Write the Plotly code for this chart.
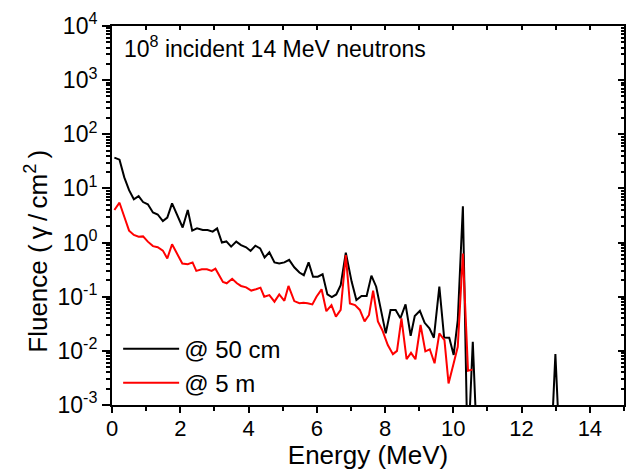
import plotly.graph_objects as go

# ---------------- data ----------------
energy_50cm = [0.07, 0.22, 0.36, 0.50, 0.64, 0.78, 0.91, 1.05, 1.20, 1.34,
               1.49, 1.62, 1.76, 1.91, 2.07, 2.22, 2.35, 2.49, 2.66, 2.80,
               2.95, 3.08, 3.22, 3.35, 3.49, 3.64, 3.78, 3.93, 4.06, 4.20,
               4.34, 4.47, 4.61, 4.76, 4.90, 5.05, 5.19, 5.34, 5.49, 5.62,
               5.76, 5.89, 6.03, 6.17, 6.31, 6.44, 6.57, 6.70, 6.85, 7.02,
               7.16, 7.31, 7.46, 7.60, 7.74, 7.87, 8.02, 8.16, 8.31, 8.45,
               8.60, 8.75, 8.87, 9.02, 9.16, 9.30, 9.43, 9.59, 9.73, 9.88,
               10.01, 10.13, 10.28, 10.42, 10.57, 10.71, 12.85, 12.99, 13.13]
fluence_50cm = [37, 34, 16, 9.3, 6.3, 7.2, 5.6, 5.1, 3.6, 3.3,
                2.5, 2.9, 5.3, 3.1, 1.9, 4.0, 1.66, 1.83, 1.71, 1.71,
                1.59, 1.83, 1.0, 1.05, 0.84, 1.04, 0.9, 0.82, 0.70, 0.875,
                0.78, 0.53, 0.66, 0.43, 0.41, 0.43, 0.48, 0.35, 0.28, 0.25,
                0.43, 0.234, 0.234, 0.26, 0.11, 0.098, 0.11, 0.164, 0.65, 0.19,
                0.087, 0.103, 0.103, 0.245, 0.153, 0.061, 0.021, 0.057, 0.057, 0.04,
                0.072, 0.019, 0.044, 0.055, 0.033, 0.026, 0.0175, 0.153, 0.0176, 0.0175,
                0.0084, 0.037, 4.7, 1e-4, 0.0147, 1e-4, 1e-4, 0.0087, 1e-4]

energy_5m = [0.07, 0.22, 0.36, 0.50, 0.64, 0.78, 0.91, 1.05, 1.20, 1.34,
             1.49, 1.62, 1.76, 1.91, 2.06, 2.22, 2.36, 2.47, 2.63, 2.78,
             2.92, 3.03, 3.15, 3.25, 3.36, 3.52, 3.66, 3.78, 3.93, 4.08,
             4.22, 4.35, 4.46, 4.61, 4.76, 4.90, 5.05, 5.17, 5.34, 5.49,
             5.61, 5.73, 5.87, 5.99, 6.14, 6.28, 6.43, 6.56, 6.70, 6.85,
             6.97, 7.12, 7.26, 7.40, 7.53, 7.65, 7.79, 7.92, 8.08, 8.23,
             8.35, 8.48, 8.63, 8.76, 8.89, 9.04, 9.18, 9.31, 9.45, 9.59,
             9.74, 9.86, 10.01, 10.13, 10.28, 10.43, 10.56]
fluence_5m = [4.0, 5.45, 3.0, 1.66, 1.38, 1.28, 1.3, 1.04, 0.86, 0.82,
              0.71, 0.51, 0.93, 0.63, 0.41, 0.40, 0.43, 0.30, 0.32, 0.32,
              0.30, 0.33, 0.234, 0.187, 0.177, 0.215, 0.177, 0.158, 0.149, 0.13,
              0.137, 0.147, 0.10, 0.107, 0.081, 0.11, 0.084, 0.158, 0.083, 0.076,
              0.077, 0.076, 0.072, 0.10, 0.137, 0.054, 0.070, 0.043, 0.057, 0.59,
              0.075, 0.07, 0.057, 0.035, 0.046, 0.129, 0.035, 0.024, 0.0128, 0.0087,
              0.010, 0.04, 0.007, 0.0092, 0.0070, 0.03, 0.0098, 0.0107, 0.0059, 0.021,
              0.0158, 0.0025, 0.0059, 0.0119, 0.63, 0.0043, 0.0045]

series_names = ["@ 50 cm", "@ 5 m"]
x_tickvals = [0, 2, 4, 6, 8, 10, 12, 14]
x_ticktext = ["0", "2", "4", "6", "8", "10", "12", "14"]
y_exponents = [-3, -2, -1, 0, 1, 2, 3, 4]
y_tickvals = [10.0 ** e for e in y_exponents]
y_ticktext = ["10<sup>%d</sup>" % e for e in y_exponents]
y_minor = [m * 10.0 ** e for e in y_exponents[:-1] for m in range(2, 10)]

FONT = "Liberation Sans, Arial, sans-serif"
TS = "\u2009"

fig = go.Figure()
fig.add_trace(go.Scatter(x=energy_50cm, y=fluence_50cm, mode="lines",
                         name=series_names[0],
                         line=dict(color="black", width=2),
                         xaxis="x", yaxis="y"))
fig.add_trace(go.Scatter(x=energy_5m, y=fluence_5m, mode="lines",
                         name=series_names[1],
                         line=dict(color="#ff0000", width=2),
                         xaxis="x2", yaxis="y2"))

common_x = dict(range=[0, 15], showgrid=False, zeroline=False,
                showline=True, linecolor="black", linewidth=2)
common_y = dict(type="log", range=[-3, 4], showgrid=False, zeroline=False,
                showline=True, linecolor="black", linewidth=2)

y_title = "Fluence (" + TS + "γ" + TS + "/" + TS + "cm<sup>2</sup>" + TS + ")"

fig.update_layout(
    width=632, height=470,
    margin=dict(l=112, r=6, t=26, b=65),
    paper_bgcolor="white", plot_bgcolor="white",
    font=dict(family=FONT, size=22, color="black"),
    showlegend=True,
    legend=dict(x=0.012, y=0.207, xanchor="left", yanchor="top",
                bgcolor="rgba(0,0,0,0)", font=dict(size=24, family=FONT),
                itemwidth=56, tracegroupgap=0),
    xaxis=dict(**common_x, tickmode="array", tickvals=x_tickvals,
               ticktext=x_ticktext, ticks="outside", ticklen=6, tickwidth=2,
               tickcolor="black", tickfont=dict(size=22, family=FONT),
               ticklabelstandoff=-3,
               minor=dict(tickmode="linear", tick0=0, dtick=1, ticks="outside",
                          ticklen=4, tickwidth=2, tickcolor="black"),
               title=dict(text="Energy (MeV)", font=dict(size=26, family=FONT),
                          standoff=0),
               anchor="y", mirror=True),
    yaxis=dict(**common_y, tickmode="array", tickvals=y_tickvals,
               ticktext=y_ticktext, ticks="outside", ticklen=8, tickwidth=2,
               tickcolor="black", tickfont=dict(size=23, family=FONT),
               minor=dict(tickmode="array", tickvals=y_minor, ticks="outside",
                          ticklen=4, tickwidth=1.5, tickcolor="black"),
               anchor="x", mirror=True),
    xaxis2=dict(**common_x, overlaying="x", side="top", anchor="y2",
                tickmode="linear", tick0=0, dtick=1, ticks="inside",
                ticklen=4, tickwidth=1.5, tickcolor="black",
                showticklabels=False),
    yaxis2=dict(**common_y, overlaying="y", side="right", anchor="x2",
                tickmode="array", tickvals=y_tickvals, ticks="inside",
                ticklen=6, tickwidth=2, tickcolor="black",
                showticklabels=False,
                minor=dict(tickmode="array", tickvals=y_minor, ticks="inside",
                           ticklen=3, tickwidth=1.5, tickcolor="black")),
    annotations=[
        dict(text="10<sup>8</sup> incident 14 MeV neutrons",
             xref="paper", yref="paper", x=0.02, y=0.945,
             xanchor="left", yanchor="middle", showarrow=False,
             font=dict(size=23, family=FONT, color="black")),
        dict(text=y_title, textangle=-90,
             xref="paper", yref="paper", x=-0.148, y=0.405,
             xanchor="center", yanchor="middle", showarrow=False,
             font=dict(size=26, family=FONT, color="black")),
    ],
)

fig.write_html("out.html")
